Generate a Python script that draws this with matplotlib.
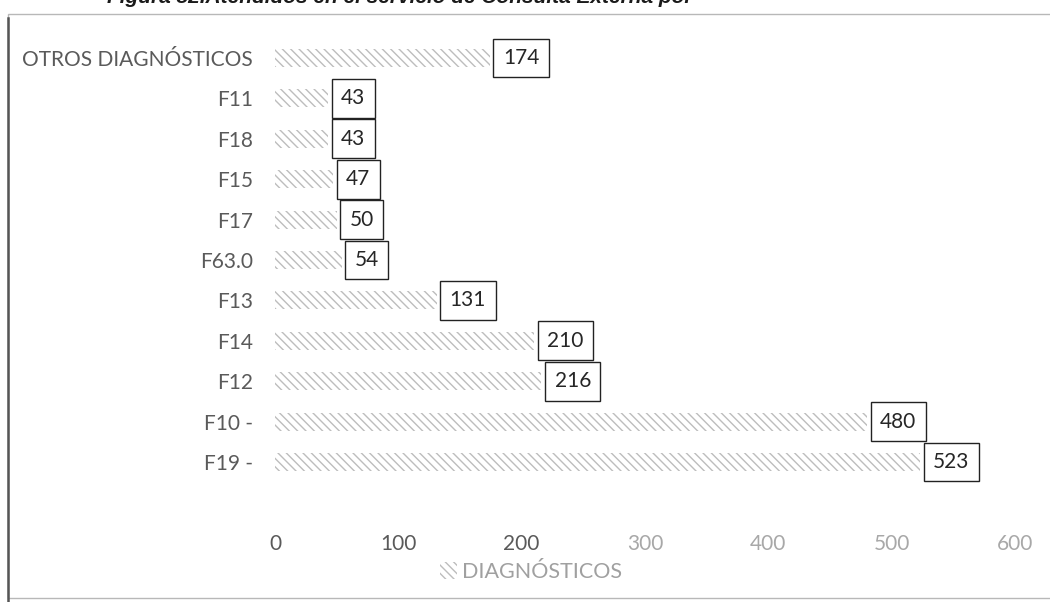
import matplotlib
matplotlib.use("Agg")
from matplotlib import pyplot
from matplotlib.patches import Rectangle, Patch
import numpy as np

# data, bottom row first
categories = ["F19 -", "F10 -", "F12", "F14", "F13", "F63.0",
              "F17", "F15", "F18", "F11", "OTROS DIAGNÓSTICOS"]
values = [523, 480, 216, 210, 131, 54, 50, 47, 43, 43, 174]
xticks = [0, 100, 200, 300, 400, 500, 600]
series_name = "DIAGNÓSTICOS"
title = "Figura 52.Atendidos en el servicio de Consulta Externa por"

pyplot.rcParams["font.family"] = ["Lato", "DejaVu Sans"]
pyplot.rcParams["hatch.linewidth"] = 1.0

fig = pyplot.figure(figsize=(10.5, 6.02), dpi=100)

# scanned frame around the chart (right side runs off the page)
fig.patches.append(Rectangle((8/1050, 4/602), 1.1, 584/602,
                             transform=fig.transFigure, fill=False,
                             edgecolor="#b8b8b8", lw=1.0))
fig.add_artist(pyplot.Line2D([8/1050, 8/1050], [0, 584/602],
                             transform=fig.transFigure, color="#555555", lw=1.8))

# title, only its lower half is left on the scan
fig.text(107/1050, 1-3/602, title, fontsize=15, fontweight="bold",
         fontstyle="italic", family="Liberation Sans", va="baseline", color="#1a1a1a")

ax = fig.add_axes([275/1050, 1-482.2/602, 740/1050, 444.4/602])

ypos = np.arange(len(categories))
ax.barh(ypos, values, height=0.45, color="white", edgecolor="#bdbdbd",
        hatch="\\\\\\\\", linewidth=0, label=series_name)

for y, v in zip(ypos, values):
    ax.annotate(str(v), xy=(v, y), xytext=(9.5, 0), textcoords="offset points",
                ha="left", va="center", fontsize=15, color="#262626",
                bbox=dict(boxstyle="square,pad=0.45", fc="white", ec="#222222", lw=1.0))

ax.set_xlim(0, 600)
ax.set_ylim(-0.5, len(categories)-0.5)
ax.set_xticks(xticks)
ax.set_yticks(ypos)
ax.set_yticklabels(categories)
ax.tick_params(length=0, labelsize=15, colors="#5a5a5a")
ax.tick_params(axis="x", pad=37)
ax.tick_params(axis="y", pad=16)
for lbl in ax.get_xticklabels()[3:]:
    lbl.set_color("#a8a8a8")
for s in ax.spines.values():
    s.set_visible(False)

fig.legend(handles=[Patch(facecolor="white", edgecolor="#bdbdbd", hatch="\\\\\\\\", lw=0)],
           labels=[series_name], loc="center", bbox_to_anchor=(531/1050, 1-572/602),
           frameon=False, fontsize=15.5, labelcolor="#a0a0a0", handlelength=0.8,
           handleheight=0.8, handletextpad=0.2)

fig.savefig("out.png", dpi=100, facecolor="white")
